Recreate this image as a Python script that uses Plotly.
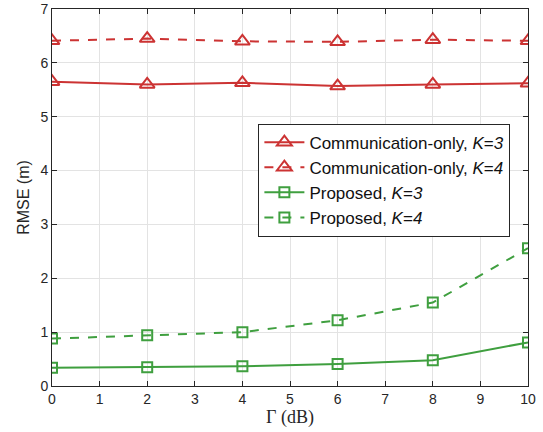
import plotly.graph_objects as go

gamma_db = [0, 2, 4, 6, 8, 10]
comm_k3 = [5.65, 5.60, 5.63, 5.57, 5.60, 5.62]
comm_k4 = [6.41, 6.45, 6.40, 6.39, 6.43, 6.41]
prop_k3 = [0.34, 0.35, 0.365, 0.41, 0.48, 0.81]
prop_k4 = [0.88, 0.94, 1.00, 1.22, 1.55, 2.56]

RED = "#CC3333"
GREEN = "#3F9F3F"

fig = go.Figure()
fig.add_trace(go.Scatter(x=gamma_db, y=comm_k3, mode="lines+markers",
                         name="Communication-only, <i>K</i>=<i>3</i>",
                         line=dict(color=RED, width=2),
                         marker=dict(symbol="triangle-up-open", size=13, line=dict(width=2, color=RED))))
fig.add_trace(go.Scatter(x=gamma_db, y=comm_k4, mode="lines+markers",
                         name="Communication-only, <i>K</i>=<i>4</i>",
                         line=dict(color=RED, width=2, dash="dash"),
                         marker=dict(symbol="triangle-up-open", size=13, line=dict(width=2, color=RED))))
fig.add_trace(go.Scatter(x=gamma_db, y=prop_k3, mode="lines+markers",
                         name="Proposed, <i>K</i>=<i>3</i>",
                         line=dict(color=GREEN, width=2),
                         marker=dict(symbol="square-open", size=10, line=dict(width=2, color=GREEN))))
fig.add_trace(go.Scatter(x=gamma_db, y=prop_k4, mode="lines+markers",
                         name="Proposed, <i>K</i>=<i>4</i>",
                         line=dict(color=GREEN, width=2, dash="dash"),
                         marker=dict(symbol="square-open", size=10, line=dict(width=2, color=GREEN))))

axis_common = dict(showline=True, linecolor="#262626", linewidth=1, mirror="ticks",
                   ticks="inside", ticklen=5, tickcolor="#262626",
                   showgrid=True, gridcolor="#E3E3E3", gridwidth=1, zeroline=False,
                   automargin=False, ticklabeloverflow="allow",
                   tickfont=dict(family="Liberation Sans, Arial", size=14, color="#262626"))

fig.update_xaxes(range=[0, 10], dtick=1, tick0=0,
                 title=dict(text="Γ (dB)", font=dict(family="Liberation Serif, DejaVu Serif", size=18, color="#262626"),
                            standoff=4),
                 **axis_common)
fig.update_yaxes(range=[0, 7], dtick=1, tick0=0,
                 title=dict(text="RMSE (m)", font=dict(family="Liberation Sans, Arial", size=16, color="#262626"),
                            standoff=6),
                 **axis_common)

fig.update_layout(
    width=543, height=432,
    margin=dict(l=52, r=15, t=9, b=46),
    plot_bgcolor="white", paper_bgcolor="white",
    font=dict(family="Liberation Sans, Arial", size=14, color="#262626"),
    legend=dict(x=0.963, y=0.696, xanchor="right", yanchor="top",
                bgcolor="white", bordercolor="#262626", borderwidth=1,
                font=dict(size=17, color="#111111"), tracegroupgap=0,
                itemwidth=40),
    showlegend=True,
)

fig.write_html("out.html", config={"displayModeBar": False},
               post_script="document.body.style.margin='0';")
